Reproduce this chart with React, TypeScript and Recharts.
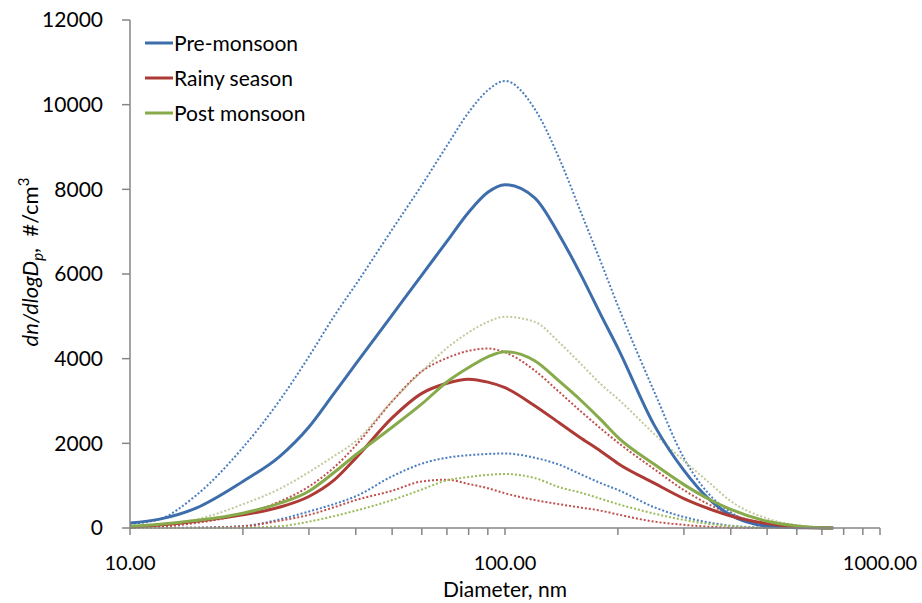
import { LineChart, Line, XAxis, YAxis } from 'recharts'

// particle diameter (nm) for each sample row
const diameters = [10, 12, 15, 20, 25, 30, 35, 40, 50, 60, 70, 80, 90, 100, 120, 140, 160, 180, 200, 250, 300, 350, 400, 500, 600, 700, 750]

// dn/dlogDp (#/cm3): seasonal mean with upper / lower envelope
const preMean = [120, 210, 470, 1100, 1680, 2385, 3180, 3875, 5030, 5975, 6770, 7460, 7930, 8110, 7800, 6900, 5950, 5040, 4250, 2430, 1360, 680, 300, 45, 8, 2, 0]
const preMax = [100, 210, 770, 1900, 3000, 4050, 5000, 5750, 7050, 8100, 9030, 9820, 10340, 10560, 9900, 8700, 7420, 6290, 5250, 3220, 1650, 800, 370, 70, 12, 2, 0]
const preMin = [0, 2, 8, 45, 200, 390, 565, 750, 1220, 1520, 1660, 1720, 1750, 1760, 1660, 1490, 1260, 1060, 900, 490, 260, 130, 55, 8, 1, 0, 0]

const rainyMean = [20, 70, 160, 310, 490, 745, 1130, 1650, 2600, 3180, 3420, 3515, 3445, 3315, 2890, 2475, 2115, 1815, 1525, 1060, 695, 455, 285, 105, 25, 3, 0]
const rainyMax = [10, 30, 120, 330, 620, 980, 1430, 1950, 2990, 3700, 4015, 4185, 4240, 4150, 3720, 3200, 2740, 2350, 2020, 1390, 895, 555, 330, 92, 15, 0, 0]
const rainyMin = [0, 0, 5, 40, 170, 310, 490, 660, 880, 1100, 1140, 1040, 940, 820, 660, 560, 480, 410, 320, 150, 75, 30, 8, 0, 0, 0, 0]

const postMean = [40, 90, 175, 350, 580, 870, 1310, 1730, 2380, 2930, 3450, 3790, 4045, 4165, 3950, 3455, 3000, 2560, 2140, 1505, 1025, 680, 440, 160, 50, 8, 0]
const postMax = [30, 80, 200, 560, 920, 1320, 1700, 2050, 3000, 3700, 4250, 4620, 4870, 4990, 4870, 4370, 3860, 3400, 3050, 2220, 1590, 1075, 635, 225, 65, 15, 5]
const postMin = [0, 0, 0, 10, 40, 150, 280, 410, 660, 910, 1125, 1205, 1255, 1275, 1180, 960, 830, 690, 565, 340, 190, 95, 45, 5, 0, 0, 0]

const xTicks = [10, 20, 30, 40, 50, 60, 70, 80, 90, 100, 200, 300, 400, 500, 600, 700, 800, 900, 1000]
const xLabelled = [10, 100, 1000]
const yTicks = [0, 2000, 4000, 6000, 8000, 10000, 12000]

const legendItems = [
  { name: 'Pre-monsoon', color: '#3d6daa' },
  { name: 'Rainy season', color: '#ae3a36' },
  { name: 'Post monsoon', color: '#87aa4a' },
]

const data = diameters.map((d, i) => ({
  d,
  preMean: preMean[i],
  preMax: preMax[i],
  preMin: preMin[i],
  rainyMean: rainyMean[i],
  rainyMax: rainyMax[i],
  rainyMin: rainyMin[i],
  postMean: postMean[i],
  postMax: postMax[i],
  postMin: postMin[i],
}))

const FONT = 'Lato, "Open Sans", sans-serif'
const AXIS = '#868686'

// legend only lists the three mean curves; drawn over the plot's top-left corner
function SeasonLegend() {
  return (
    <div style={{ position: 'absolute', left: 145, top: 25, fontFamily: FONT, fontSize: 21, color: '#000' }}>
      {legendItems.map((it) => (
        <div key={it.name} style={{ display: 'flex', alignItems: 'center', height: 35 }}>
          <svg width={28} height={6}>
            <line x1={0} y1={3} x2={28} y2={3} stroke={it.color} strokeWidth={3} />
          </svg>
          <span style={{ marginLeft: 1 }}>{it.name}</span>
        </div>
      ))}
    </div>
  )
}

function YTitle() {
  return (
    <text
      transform="translate(38,262) rotate(-90)"
      textAnchor="middle"
      fontFamily={FONT}
      fontSize={22}
      fill="#000"
    >
      <tspan fontStyle="italic">dn/dlogD</tspan>
      <tspan fontStyle="italic" fontSize={15} dy={5}>p</tspan>
      <tspan dy={-5}>{',\u00a0\u00a0#/cm'}</tspan>
      <tspan fontSize={15} dy={-9}>3</tspan>
    </text>
  )
}

function XTitle() {
  return (
    <text x={505} y={597} textAnchor="middle" fontFamily={FONT} fontSize={21} fill="#000">
      Diameter, nm
    </text>
  )
}

const dotted = { strokeWidth: 2, strokeDasharray: '2 2', dot: false, type: 'monotone' as const, isAnimationActive: false, legendType: 'none' as const }
const solid = { strokeWidth: 3, dot: false, type: 'monotone' as const, isAnimationActive: false }

export default function App() {
  return (
    <div style={{ position: 'absolute', left: 0, top: 0, width: 922, height: 603, background: '#fff' }}>
      <LineChart width={922} height={603} data={data} margin={{ top: 20, right: 42, bottom: 25, left: 70 }}>
        <XAxis
          dataKey="d"
          type="number"
          scale="log"
          domain={[10, 1000]}
          allowDataOverflow
          ticks={xTicks}
          interval={0}
          tickFormatter={(v: number) => (xLabelled.includes(v) ? v.toFixed(2) : '')}
          tickSize={7}
          tickMargin={21}
          height={50}
          axisLine={{ stroke: AXIS, strokeWidth: 1.5 }}
          tickLine={{ stroke: AXIS, strokeWidth: 1.5 }}
          tick={{ fill: '#000', fontSize: 20, fontFamily: FONT }}
          label={<XTitle />}
        />
        <YAxis
          type="number"
          domain={[0, 12000]}
          ticks={yTicks}
          interval={0}
          width={60}
          tickSize={8}
          tickMargin={19}
          axisLine={{ stroke: AXIS, strokeWidth: 1.5 }}
          tickLine={{ stroke: AXIS, strokeWidth: 1.5 }}
          tick={{ fill: '#000', fontSize: 21, fontFamily: FONT }}
          label={<YTitle />}
        />
        <Line dataKey="preMax" stroke="#4a7dbf" {...dotted} />
        <Line dataKey="preMin" stroke="#4a7dbf" {...dotted} />
        <Line dataKey="rainyMax" stroke="#c0504d" {...dotted} />
        <Line dataKey="rainyMin" stroke="#c0504d" {...dotted} />
        <Line dataKey="postMax" stroke="#c2c99c" {...dotted} />
        <Line dataKey="postMin" stroke="#9bbb59" {...dotted} />
        <Line dataKey="preMean" name="Pre-monsoon" stroke="#3d6daa" {...solid} />
        <Line dataKey="rainyMean" name="Rainy season" stroke="#ae3a36" {...solid} />
        <Line dataKey="postMean" name="Post monsoon" stroke="#87aa4a" {...solid} />
      </LineChart>
      <SeasonLegend />
    </div>
  )
}
